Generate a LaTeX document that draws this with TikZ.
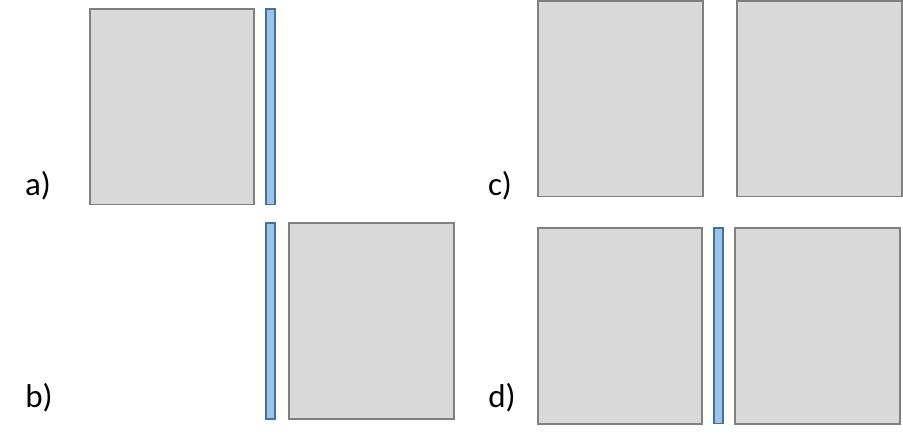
\documentclass[tikz,border=0pt]{standalone}
\usepackage{fontspec}
\setmainfont{Carlito}
\definecolor{boxfill}{HTML}{D9D9D9}
\definecolor{boxline}{HTML}{808080}
\definecolor{barfill}{HTML}{9DC3E6}
\definecolor{barline}{HTML}{41719C}
\begin{document}
\begin{tikzpicture}[x=1pt,y=-1pt,
  graybox/.style={fill=boxfill,draw=boxline,line width=1.6pt},
  bluebar/.style={fill=barfill,draw=barline,line width=1.4pt},
  lbl/.style={font=\fontsize{33}{36}\selectfont,inner sep=0pt}]
\useasboundingbox (0,0) rectangle (903,441);
% a)
\node[lbl] (la) at (38,186) {a)};
\draw[graybox] (90,9) rectangle (254,204.5);
\draw[bluebar] (266,9) rectangle (275,204.5);
% b)
\node[lbl] (lb) at (39,398) {b)};
\draw[bluebar] (266,223) rectangle (275,419);
\draw[graybox] (289,223) rectangle (454,419);
% c)
\node[lbl] (lc) at (500,186) {c)};
\draw[graybox] (538,1.3) rectangle (703,196.7);
\draw[graybox] (737,1.3) rectangle (902,196.7);
% d)
\node[lbl] (ld) at (502,398) {d)};
\draw[graybox] (538,228) rectangle (702,423.7);
\draw[bluebar] (714,228) rectangle (723,423.7);
\draw[graybox] (735,228) rectangle (900,423.7);
\end{tikzpicture}
\end{document}
